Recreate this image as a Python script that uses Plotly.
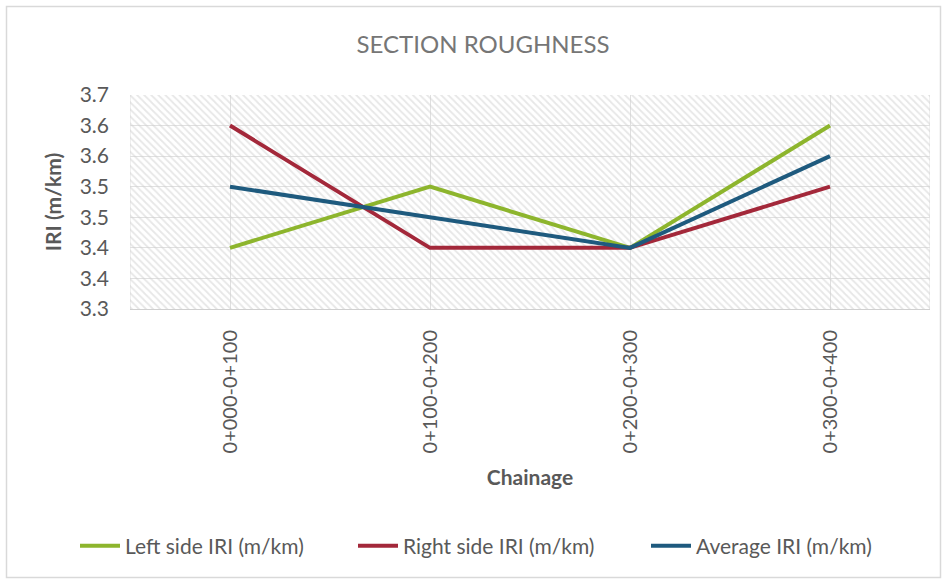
import plotly.graph_objects as go

# Chainage sections and roughness readings (IRI, m/km)
chainage = ["0+000-0+100", "0+100-0+200", "0+200-0+300", "0+300-0+400"]
left_iri = [3.40, 3.50, 3.40, 3.60]
right_iri = [3.60, 3.40, 3.40, 3.50]
average_iri = [3.50, 3.45, 3.40, 3.55]

y_ticks = [3.30, 3.35, 3.40, 3.45, 3.50, 3.55, 3.60, 3.65]
y_labels = ["3.3", "3.4", "3.4", "3.5", "3.5", "3.6", "3.6", "3.7"]

# name, values, colour, legend entry width
series = [
    ("Left side IRI (m/km)", left_iri, "#8DB52D", 223),
    ("Right side IRI (m/km)", right_iri, "#A3283A", 238),
    ("Average IRI (m/km)", average_iri, "#1E5A7E", 185),
]

FONT = "Lato, Open Sans, sans-serif"
GREY = "#595959"

xs = list(range(len(chainage)))
x_lo, x_hi = -0.5, len(chainage) - 0.5
y_lo, y_hi = y_ticks[0], y_ticks[-1]

fig = go.Figure()

# hatched plot-area background
fig.add_trace(go.Scatter(
    x=[x_lo, x_hi, x_hi, x_lo, x_lo],
    y=[y_lo, y_lo, y_hi, y_hi, y_lo],
    mode="lines", line=dict(width=0), fill="toself",
    fillcolor="rgba(0,0,0,0)",
    fillpattern=dict(shape="\\", fgcolor="#cfcfcf", bgcolor="rgba(0,0,0,0)",
                     size=5, solidity=0.35),
    hoverinfo="skip", showlegend=False,
))

for name, vals, color, lw in series:
    fig.add_trace(go.Scatter(
        x=xs, y=vals, name=name, mode="lines",
        line=dict(color=color, width=4), legendwidth=lw,
    ))

W, H = 947, 583
PL, PR, PT, PB = 130, 930, 95, 309   # plot-area edges in px
PW, PH = PR - PL, PB - PT

fig.update_layout(
    width=W, height=H,
    margin=dict(l=PL, r=W - PR, t=PT, b=H - PB, autoexpand=False),
    paper_bgcolor="white", plot_bgcolor="white",
    font=dict(family=FONT, color=GREY, size=16),
    title=dict(text="SECTION ROUGHNESS", x=483 / W, xanchor="center",
               y=1 - 45 / H, yanchor="middle", yref="container",
               font=dict(size=24, color="#767676", family=FONT)),
    showlegend=True,
    legend=dict(orientation="h", x=(75 - PL) / PW, xanchor="left",
                y=-(546 - PB) / PH, yanchor="middle", bgcolor="rgba(0,0,0,0)",
                font=dict(size=21, color=GREY), itemwidth=40, tracegroupgap=0),
    shapes=[
        # chart-area border
        dict(type="rect", xref="paper", yref="paper",
             x0=(6.5 - PL) / PW, x1=(940.5 - PL) / PW,
             y0=(PB - 577.5) / PH, y1=(PB - 6.5) / PH,
             line=dict(color="#d9d9d9", width=1.5), layer="below"),
        dict(type="line", xref="x", yref="y", x0=x_hi, x1=x_hi, y0=y_lo, y1=y_hi,
             line=dict(color="#e0e0e0", width=1), layer="below"),
        dict(type="line", xref="x", yref="y", x0=x_lo, x1=x_lo, y0=y_lo, y1=y_hi,
             line=dict(color="#e0e0e0", width=1), layer="below"),
    ],
)

fig.update_xaxes(
    range=[x_lo, x_hi], tickvals=xs, ticktext=chainage, tickangle=-90,
    showgrid=True, gridcolor="#e0e0e0", gridwidth=1,
    showline=True, linecolor="#d0d0d0", linewidth=1,
    ticks="", ticklabelstandoff=12, zeroline=False, automargin=False,
    tickfont=dict(size=20, color=GREY),
    title=dict(text="<b>Chainage</b>", font=dict(size=21, color=GREY), standoff=17),
)
fig.update_yaxes(
    range=[y_lo, y_hi], tickvals=y_ticks, ticktext=y_labels,
    showgrid=True, gridcolor="#e0e0e0", gridwidth=1,
    showline=False, ticks="", ticklabelstandoff=20, zeroline=False, automargin=False,
    tickfont=dict(size=21, color=GREY),
    title=dict(text="<b>IRI (m/km)</b>", font=dict(size=21, color=GREY), standoff=12),
)

fig.write_html("out.html")
